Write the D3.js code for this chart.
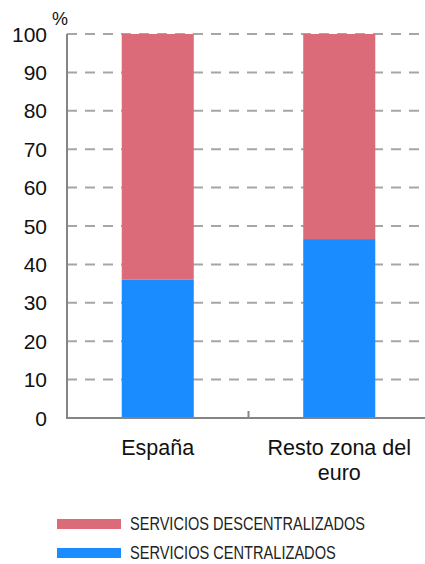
<!DOCTYPE html>
<html><head><meta charset="utf-8">
<script src="https://cdn.jsdelivr.net/npm/d3@7"></script>
<style>body{margin:0;background:#fff}svg{display:block}</style>
</head><body>
<script>
const categories = [["España"], ["Resto zona del", "euro"]];
const centralizados = [36.1, 46.6];
const descentralizados = [63.9, 53.4];
const yTicks = [0,10,20,30,40,50,60,70,80,90,100];
const seriesNames = ["SERVICIOS DESCENTRALIZADOS", "SERVICIOS CENTRALIZADOS"];
const colors = ["#db6b79", "#1a8cff"];

const W = 425, H = 564;
const svg = d3.select("body").append("svg").attr("width", W).attr("height", H);
const x0 = 67, yTop = 34, yBot = 418;
const y = d3.scaleLinear().domain([0,100]).range([yBot, yTop]);
const x = d3.scaleBand().domain(d3.range(categories.length)).range([x0, x0 + 363]).paddingInner(0.603).paddingOuter(0.3015);

// gridlines
svg.append("g").selectAll("line").data(yTicks.filter(d => d > 0)).join("line")
  .attr("x1", x0).attr("x2", W).attr("y1", d => y(d)).attr("y2", d => y(d))
  .attr("stroke", "#a6a6a6").attr("stroke-width", 2).attr("stroke-dasharray", "10,8");

// bars
const g = svg.append("g");
categories.forEach((c, i) => {
  g.append("rect").attr("x", x(i)).attr("width", x.bandwidth())
    .attr("y", y(centralizados[i])).attr("height", y(0) - y(centralizados[i])).attr("fill", colors[1]);
  g.append("rect").attr("x", x(i)).attr("width", x.bandwidth())
    .attr("y", y(centralizados[i] + descentralizados[i])).attr("height", y(centralizados[i]) - y(centralizados[i] + descentralizados[i])).attr("fill", colors[0]);
});

// axes
svg.append("line").attr("x1", x0).attr("x2", x0).attr("y1", yTop).attr("y2", yBot + 1).attr("stroke", "#858585").attr("stroke-width", 2);
svg.append("line").attr("x1", x0 - 1).attr("x2", W).attr("y1", yBot).attr("y2", yBot).attr("stroke", "#858585").attr("stroke-width", 2);
const step = x.step();
svg.append("g").selectAll("line").data(d3.range(1, categories.length)).join("line")
  .attr("x1", d => x0 + d * step).attr("x2", d => x0 + d * step)
  .attr("y1", yBot).attr("y2", yBot - 7).attr("stroke", "#858585").attr("stroke-width", 2);

// y tick labels
svg.append("g").selectAll("text").data(yTicks).join("text")
  .attr("x", 47).attr("y", d => y(d)).attr("dy", "0.36em")
  .attr("text-anchor", "end").attr("font-family", "Liberation Sans, Arial, sans-serif")
  .attr("font-size", 21).attr("fill", "#111").text(d => d);
svg.append("text").attr("x", 60).attr("y", 25).attr("text-anchor", "middle")
  .attr("font-family", "Liberation Sans, Arial, sans-serif").attr("font-size", 18).attr("fill", "#111").text("%");

// category labels
categories.forEach((c, i) => {
  const t = svg.append("text").attr("x", x(i) + x.bandwidth() / 2).attr("y", 455)
    .attr("text-anchor", "middle").attr("font-family", "Liberation Sans, Arial, sans-serif")
    .attr("font-size", 21.5).attr("fill", "#111");
  c.forEach((line, j) => t.append("tspan").attr("x", x(i) + x.bandwidth() / 2).attr("y", 455 + j * 25).text(line));
});

// legend
const legW = [235, 206];
seriesNames.forEach((n, i) => {
  const ly = 519 + i * 29;
  svg.append("rect").attr("x", 57).attr("y", ly).attr("width", 64).attr("height", 10).attr("fill", colors[i]);
  const t = svg.append("text").attr("x", 0).attr("y", 0).attr("dy", "0.36em")
    .attr("font-family", "Liberation Sans, Arial, sans-serif")
    .attr("font-size", 18).attr("fill", "#222").text(n);
  const len = t.node().getComputedTextLength();
  t.attr("transform", `translate(130,${ly + 5}) scale(${legW[i] / len},1)`);
});
</script>
</body></html>
